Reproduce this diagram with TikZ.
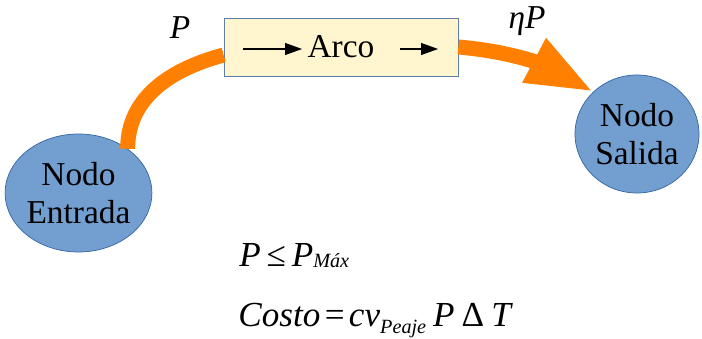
\documentclass[tikz,border=0pt]{standalone}
\usepackage{fontspec}
\setmainfont{Liberation Serif}
\usetikzlibrary{arrows.meta, positioning, shapes.geometric}
\definecolor{nodoazul}{RGB}{114, 159, 207}
\definecolor{nodoborde}{RGB}{52, 101, 164}
\definecolor{arcofondo}{RGB}{255, 245, 206}
\definecolor{flujonaranja}{RGB}{255, 128, 0}
\newcommand{\bajo}[2]{\raisebox{#1}{\fontsize{11.5}{12}\selectfont\itshape #2}}
\tikzset{
  nodo/.style={ellipse, draw=nodoborde, fill=nodoazul, align=center, inner sep=0pt, font=\fontsize{19}{21.6}\selectfont},
  arcobox/.style={rectangle, draw=nodoazul!80!black, fill=arcofondo, font=\fontsize{19}{21.6}\selectfont},
  flujo/.style={line width=0.3cm, flujonaranja},
  flecha/.style={-{Triangle[length=3.4mm, width=2.4mm]}, line width=0.6pt, black},
  etiq/.style={font=\fontsize{19}{21.6}\selectfont\itshape},
  formula/.style={anchor=base west, inner sep=0pt, font=\fontsize{20}{24}\selectfont}
}
\begin{document}
\begin{tikzpicture}
  \useasboundingbox (0,0) rectangle (14.04,-6.76);
  \node[nodo, minimum width=2.74cm, minimum height=2.36cm] (entrada) at (1.57,-3.86) {Nodo\\Entrada};
  \node[nodo, minimum width=2.48cm, minimum height=2.36cm] (salida) at (12.74,-2.68) {Nodo\\Salida};
  \node[arcobox, minimum width=4.68cm, minimum height=1.16cm] (arco) at (6.82,-0.94) {Arco};
  % flechas dentro del arco
  \coordinate (f1a) at (4.86,-0.98);
  \coordinate (f1b) at (6.04,-0.98);
  \coordinate (f2a) at (8.0,-0.98);
  \coordinate (f2b) at (8.76,-0.98);
  \draw[flecha] (f1a) -- (f1b);
  \draw[flecha] (f2a) -- (f2b);
  % flujo de potencia
  \draw[flujo] (entrada.42) to[out=90, in=195] ([yshift=-0.16cm]arco.west);
  \draw[flujo, -{Triangle[length=1.34cm, width=0.92cm]}] (arco.east) to[out=-5, in=152] (salida.136);
  \node[etiq] (pin) at (3.6,-0.56) {P};
  \node[etiq] (pout) at (10.54,-0.42) {ηP};
  % restricciones
  \node[formula] (limite) at (4.78,-5.32) {\textit{P}\,≤\,\textit{P}\bajo{-0.05em}{Máx}};
  \node[formula] (costo) at (4.76,-6.52) {\textit{Costo}\hspace{2.5pt}=\hspace{2.5pt}\textit{cv}\bajo{-0.2em}{Peaje}\hspace{4pt}\textit{P}\hspace{4pt}Δ\hspace{4pt}\textit{T}};
\end{tikzpicture}
\end{document}
